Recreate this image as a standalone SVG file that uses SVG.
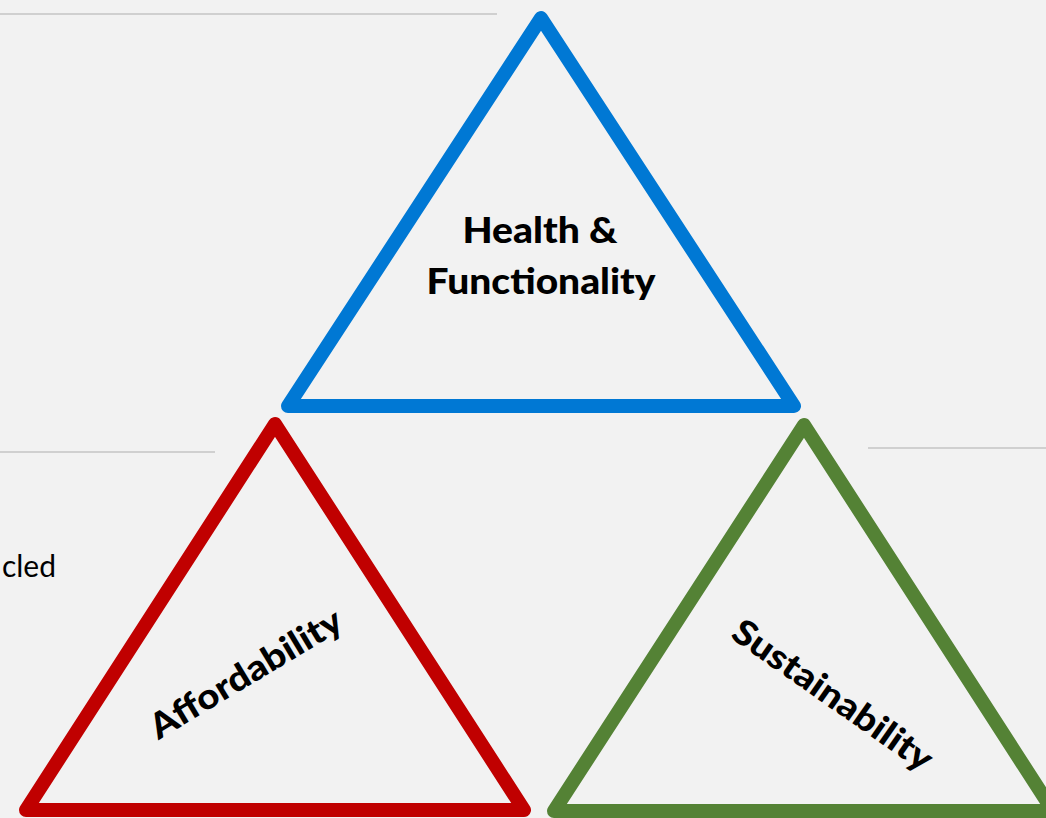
<svg xmlns="http://www.w3.org/2000/svg" width="1046" height="818" viewBox="0 0 1046 818">
<style>
.bg{fill:#F2F2F2}
.rule{stroke:#D0D0D0;stroke-width:2;fill:none}
.tri{fill:none;stroke-width:14;stroke-linejoin:round}
.lbl{font-family:Lato,"Open Sans","Liberation Sans",sans-serif;font-weight:900;fill:#000;text-anchor:middle}
.body{font-family:Lato,"Open Sans","Liberation Sans",sans-serif;font-size:30px;fill:#000}
</style>
<rect class="bg" x="0" y="0" width="1046" height="818"/>
<g id="background-rules">
<line class="rule" x1="0" y1="14" x2="497" y2="14"/>
<line class="rule" x1="0" y1="452" x2="215" y2="452"/>
<line class="rule" x1="868" y1="448" x2="1046" y2="448"/>
<text class="body" x="56" y="577" text-anchor="end">cled</text>
</g>
<g id="connectors"></g>
<g id="node-health">
<polygon class="tri" stroke="#0078D4" points="541,18 794,406 288,406"/>
<text class="lbl" font-size="36" x="540" y="243" textLength="155" lengthAdjust="spacingAndGlyphs">Health &amp;</text>
<text class="lbl" font-size="36" x="541" y="294" textLength="229" lengthAdjust="spacingAndGlyphs">Functionality</text>
</g>
<g id="node-affordability">
<polygon class="tri" stroke="#C00000" points="275,424 524,810 26,810"/>
<text class="lbl" font-size="35" transform="translate(252,684) rotate(-31)" x="0" y="0" textLength="218" lengthAdjust="spacingAndGlyphs">Affordability</text>
</g>
<g id="node-sustainability">
<polygon class="tri" stroke="#548235" points="804,425 1053,811 554,811"/>
<text class="lbl" font-size="35" transform="translate(826,705) rotate(35)" x="0" y="0" textLength="236" lengthAdjust="spacingAndGlyphs">Sustainability</text>
</g>
</svg>
